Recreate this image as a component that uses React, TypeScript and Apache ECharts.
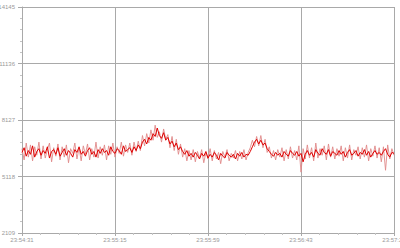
import React, { useEffect, useRef } from "react";
import * as echarts from "echarts";

const startTime = "23:54:31";
const timeTickStep = 44; // seconds between labelled ticks
const yTicks = [2109, 5118, 8127, 11136, 14145];

// one sample per second, red trace
const redValues = [
  6400, 6650, 6200, 6500, 6300, 6750, 6150, 6450, 6600, 6250,
  6500, 6350, 6700, 6100, 6450, 6550, 6300, 6650, 6200, 6400,
  6600, 6250, 6500, 6350, 6150, 6550, 6400, 6700, 6300, 6450,
  6200, 6500, 6650, 6300, 6450, 6150, 6550, 6350, 6600, 6400,
  6500, 6250, 6700, 6450, 6350, 6600, 6500, 6300, 6750, 6450,
  6550, 6650, 6400, 6700, 6500, 6800, 6600, 6950, 7100, 6850,
  7200, 7050, 7400, 7250, 7700, 7300, 7150, 7450, 7050, 7200,
  6850, 7000, 6700, 6900, 6550, 6700, 6450, 6300, 6500, 6200,
  6350, 6150, 6400, 6250, 6050, 6350, 6200, 6450, 6100, 6300,
  6150, 6400, 6250, 6000, 6350, 6200, 6100, 6400, 6250, 6150,
  6300, 6050, 6350, 6200, 6400, 6150, 6300, 6250, 6450, 6700,
  6950, 7100, 6850, 7050, 6800, 6900, 6600, 6450, 6300, 6200,
  6400, 6250, 6350, 6150, 6450, 6300, 6200, 6500, 6350, 6250,
  6450, 6200, 6350, 5900, 6300, 6500, 6250, 6400, 6150, 6550,
  6350, 6250, 6600, 6400, 6300, 6550, 6200, 6450, 6350, 6250,
  6500, 6300, 6450, 6150, 6400, 6550, 6250, 6350, 6500, 6200,
  6400, 6300, 6550, 6250, 6450, 6150, 6350, 6500, 6300, 6400,
  6250, 6450, 6600, 6300, 6150, 6400, 6350,
];

// one sample per second, pale trace
const paleValues = [
  6600, 6000, 6900, 6150, 6800, 5950, 6700, 6250, 6950, 6050,
  6750, 6100, 6550, 6900, 5900, 6650, 6200, 6850, 6000, 6700,
  6150, 6800, 5850, 6600, 6350, 6900, 6050, 6650, 5950, 6750,
  6300, 6850, 6000, 6600, 6150, 6950, 6100, 6700, 6250, 6800,
  6000, 6750, 6300, 6900, 6150, 6700, 6350, 6950, 6200, 6800,
  6400, 6900, 6250, 6950, 6450, 7000, 6500, 7300, 6750, 7400,
  6900, 7600, 7050, 7850, 7200, 7500, 6950, 7650, 7100, 7350,
  6650, 7250, 6500, 7100, 6300, 6850, 6150, 6600, 5950, 6500,
  6000, 6550, 5900, 6450, 6100, 6550, 5850, 6400, 6050, 6600,
  5950, 6500, 6050, 6400, 5800, 6450, 6150, 6550, 5950, 6350,
  6100, 6500, 5950, 6450, 6050, 6550, 6000, 6400, 6650, 7050,
  6700, 7250, 6750, 7300, 6650, 7100, 6400, 6700, 6100, 6500,
  6000, 6550, 6150, 6650, 5950, 6550, 6050, 6700, 6100, 6500,
  6000, 6750, 5350, 6600, 6050, 6800, 6100, 6650, 5950, 6900,
  6100, 6600, 6250, 6750, 6000, 6850, 6150, 6700, 6050, 6600,
  6200, 6750, 5950, 6650, 6100, 6800, 6000, 6550, 6250, 6700,
  6050, 6650, 6150, 6800, 5950, 6600, 6200, 6750, 6100, 6650,
  5900, 6700, 5450, 6800, 6050, 6600, 6250,
];

function parseTime(t: string): number {
  const [h, m, s] = t.split(":").map(Number);
  return h * 3600 + m * 60 + s;
}

function fmtTime(sec: number): string {
  const total = ((Math.round(sec) % 86400) + 86400) % 86400;
  const h = Math.floor(total / 3600);
  const m = Math.floor((total % 3600) / 60);
  const s = total % 60;
  const p = (n: number) => String(n).padStart(2, "0");
  return `${p(h)}:${p(m)}:${p(s)}`;
}

export default function App() {
  const ref = useRef<HTMLDivElement>(null);

  useEffect(() => {
    if (!ref.current) return;
    const chart = echarts.init(ref.current, undefined, { renderer: "svg" });
    const base = parseTime(startTime);
    const n = redValues.length;
    const xMax = n - 1;
    const gridColor = "#a9a9a9";
    const labelStyle = {
      color: "#9a9a9a",
      fontSize: 6,
      fontFamily: "Liberation Sans, Arial, sans-serif",
    };

    chart.setOption({
      animation: false,
      backgroundColor: "#ffffff",
      grid: {
        left: 22,
        right: 6,
        top: 7,
        bottom: 15,
        containLabel: false,
        outerBoundsMode: "none",
      },
      xAxis: {
        type: "value",
        min: 0,
        max: xMax,
        interval: timeTickStep,
        axisLine: { show: true, lineStyle: { color: gridColor, width: 1 } },
        axisTick: { show: true, length: 3, lineStyle: { color: gridColor } },
        minorTick: { show: true, splitNumber: 5, length: 2, lineStyle: { color: "#c4c4c4" } },
        splitLine: { show: true, lineStyle: { color: gridColor, width: 1 } },
        axisLabel: {
          ...labelStyle,
          margin: 4,
          formatter: (v: number) => fmtTime(base + v),
          showMinLabel: true,
          showMaxLabel: true,
          hideOverlap: false,
        },
      },
      yAxis: {
        type: "value",
        min: yTicks[0],
        max: yTicks[yTicks.length - 1],
        interval: yTicks[1] - yTicks[0],
        axisLine: { show: true, lineStyle: { color: gridColor, width: 1 } },
        axisTick: { show: true, length: 4, lineStyle: { color: gridColor } },
        minorTick: { show: true, splitNumber: 5, length: 2, lineStyle: { color: "#c4c4c4" } },
        splitLine: { show: true, lineStyle: { color: gridColor, width: 1 } },
        axisLabel: {
          ...labelStyle,
          margin: 7,
          formatter: (v: number) => String(Math.round(v)),
        },
      },
      series: [
        {
          type: "line",
          data: paleValues.map((v, i) => [i, v]),
          showSymbol: false,
          symbol: "none",
          lineStyle: { color: "#e08a8a", width: 1, opacity: 0.9 },
          z: 2,
        },
        {
          type: "line",
          data: redValues.map((v, i) => [i, v]),
          showSymbol: false,
          symbol: "none",
          lineStyle: { color: "#e00000", width: 1 },
          z: 3,
        },
      ],
    });

    return () => chart.dispose();
  }, []);

  return (
    <div
      ref={ref}
      style={{ position: "absolute", left: 0, top: 0, width: 400, height: 248 }}
    />
  );
}
